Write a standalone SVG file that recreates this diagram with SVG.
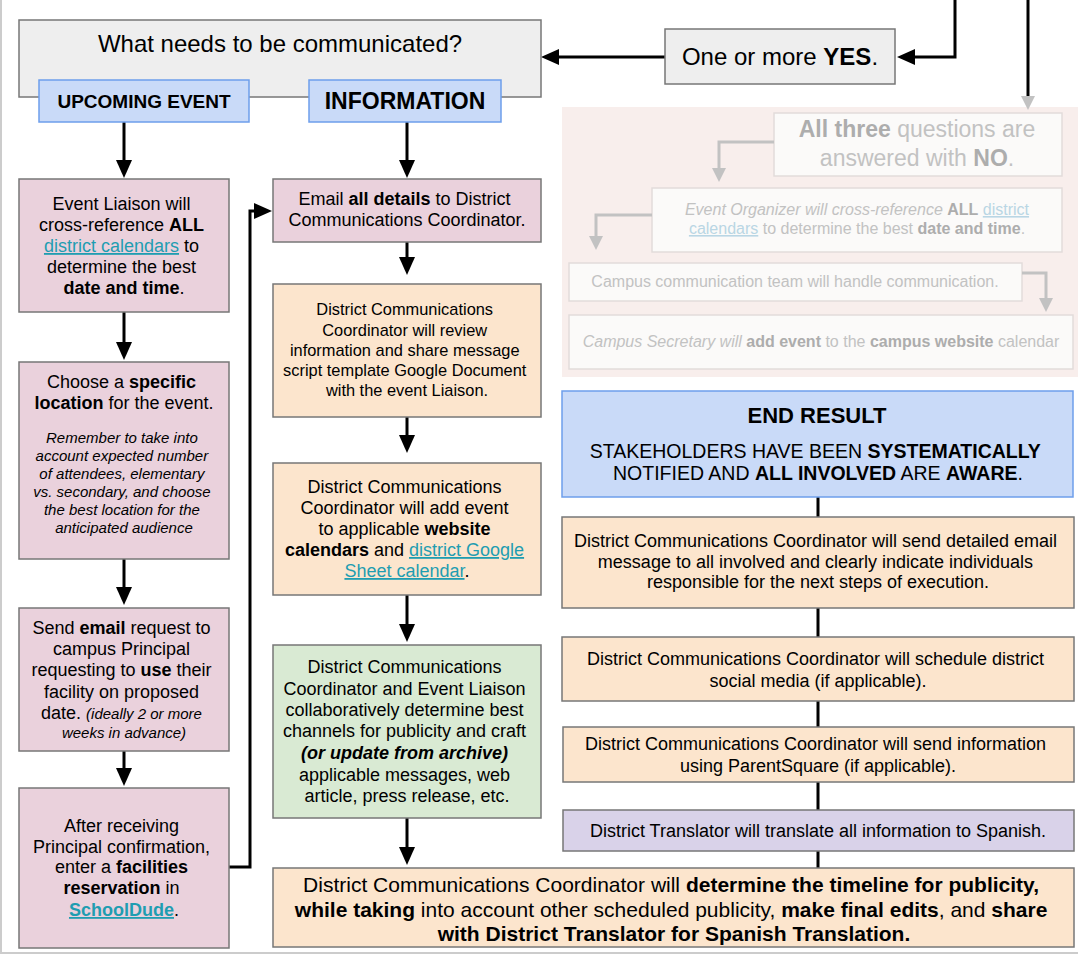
<svg xmlns="http://www.w3.org/2000/svg" width="1078" height="955" viewBox="0 0 1078 955">
<style>
text{font-family:"Liberation Sans",Arial,sans-serif;fill:#000;text-anchor:middle}
.b{font-weight:bold}
.i{font-style:italic}
.lk{fill:#1f9db1;text-decoration:underline}
.box{stroke:#777;stroke-width:1.5}
.grey{fill:#eeeeee}
.pink{fill:#ead1dc}
.orange{fill:#fce5cd}
.green{fill:#d9ead3}
.purple{fill:#d9d2e9}
.blue{fill:#c9daf8;stroke:#6d9eeb;stroke-width:1.5}
.conn{stroke:#000;stroke-width:3;fill:none}
.fconn{stroke:#c2c2c2;stroke-width:3;fill:none}
.fbox{fill:#fbfaf9;stroke:#e2dcda;stroke-width:1.5}
.ft{fill:#c2c2c2}
.ftb{fill:#adadad;font-weight:bold}
.flk{fill:#b9d6e4;text-decoration:underline}
</style>
<defs>
<marker id="ah" viewBox="0 0 18 16" refX="0" refY="8" markerWidth="18" markerHeight="16" markerUnits="userSpaceOnUse" orient="auto">
<path d="M0,0 L18,8 L0,16 z" fill="#000"/>
</marker>
<marker id="gah" viewBox="0 0 14 14" refX="0" refY="7" markerWidth="14" markerHeight="14" markerUnits="userSpaceOnUse" orient="auto">
<path d="M0,0 L14,7 L0,14 z" fill="#c2c2c2"/>
</marker>
</defs>
<rect width="1078" height="955" fill="#fff"/>
<path d="M1,0 V953 H1078" stroke="#cccccc" stroke-width="2" fill="none"/>

<!-- faded region -->
<g id="faded">
<rect x="562" y="107" width="516" height="270" fill="#f8eeec"/>
<g id="f-all-no">
<rect class="fbox" x="774" y="113" width="288" height="63"/>
<text x="917" y="137" font-size="23"><tspan class="ftb">All three</tspan><tspan class="ft"> questions are</tspan></text>
<text x="917" y="166" font-size="23"><tspan class="ft">answered with </tspan><tspan class="ftb">NO</tspan><tspan class="ft">.</tspan></text>
</g>
<g id="f-organizer">
<rect class="fbox" x="652" y="188" width="410" height="64"/>
<text x="857" y="215" font-size="16"><tspan class="ft i">Event Organizer will cross-reference </tspan><tspan class="ftb">ALL</tspan><tspan class="ft"> </tspan><tspan class="flk">district</tspan></text>
<text x="857" y="234" font-size="16"><tspan class="flk">calendars</tspan><tspan class="ft"> to determine the best </tspan><tspan class="ftb">date and time</tspan><tspan class="ft">.</tspan></text>
</g>
<g id="f-campus-team">
<rect class="fbox" x="569" y="263" width="453" height="38"/>
<text x="795" y="287" font-size="16" class="ft">Campus communication team will handle communication.</text>
</g>
<g id="f-secretary">
<rect class="fbox" x="569" y="315" width="504" height="54"/>
<text x="821" y="347" font-size="16"><tspan class="ft i">Campus Secretary will </tspan><tspan class="ftb">add event</tspan><tspan class="ft"> to the </tspan><tspan class="ftb">campus website</tspan><tspan class="ft"> calendar</tspan></text>
</g>
<g id="f-connectors">
<path class="fconn" d="M774,142 H719 V168" marker-end="url(#gah)"/>
<path class="fconn" d="M652,215 H596 V236" marker-end="url(#gah)"/>
<path class="fconn" d="M1022,273 H1046 V298" marker-end="url(#gah)"/>
</g>
</g>

<!-- connectors -->
<g id="connectors">
<path class="conn" d="M665,57 H559" marker-end="url(#ah)"/>
<path class="conn" d="M955,0 V57 H915" marker-end="url(#ah)"/>
<path class="conn" d="M1028,0 V96"/>
<path d="M1021,96 L1035,96 L1028,110 z" fill="#c2c2c2"/>
<path class="conn" d="M124,122 V160" marker-end="url(#ah)"/>
<path class="conn" d="M124,312 V342" marker-end="url(#ah)"/>
<path class="conn" d="M124,559 V587" marker-end="url(#ah)"/>
<path class="conn" d="M124,751 V768" marker-end="url(#ah)"/>
<path class="conn" d="M229,867 H250 V211 H254" marker-end="url(#ah)"/>
<path class="conn" d="M407,122 V160" marker-end="url(#ah)"/>
<path class="conn" d="M407,242 V257" marker-end="url(#ah)"/>
<path class="conn" d="M407,417 V435" marker-end="url(#ah)"/>
<path class="conn" d="M407,595 V624" marker-end="url(#ah)"/>
<path class="conn" d="M407,818 V847" marker-end="url(#ah)"/>
<path class="conn" d="M818,497 V517 M818,608 V637 M818,701 V727 M818,782 V810 M818,851 V868"/>
</g>

<g id="what">
<rect class="box grey" x="19" y="20" width="522" height="77"/>
<text x="280" y="52" font-size="24">What needs to be communicated?</text>
</g>
<g id="upcoming">
<rect class="blue" x="39" y="80" width="210" height="42"/>
<text x="144" y="108" font-size="19" class="b">UPCOMING EVENT</text>
</g>
<g id="information">
<rect class="blue" x="309" y="80" width="192" height="42"/>
<text x="405" y="109" font-size="23" class="b">INFORMATION</text>
</g>
<g id="yes">
<rect class="box grey" x="665" y="29" width="230" height="55"/>
<text x="780" y="65" font-size="24">One or more <tspan class="b">YES</tspan>.</text>
</g>

<g id="liaison">
<rect class="box pink" x="19" y="179" width="210" height="133"/>
<text font-size="18">
<tspan x="124" y="210">Event Liaison will</tspan>
<tspan x="124" y="231">cross-reference <tspan class="b">ALL</tspan></tspan>
<tspan x="124" y="252"><tspan class="lk">district calendars</tspan> to</tspan>
<tspan x="124" y="273">determine the best</tspan>
<tspan x="124" y="294"><tspan class="b">date and time</tspan>.</tspan>
</text>
</g>
<g id="location">
<rect class="box pink" x="19" y="362" width="210" height="197"/>
<text font-size="18">
<tspan x="124" y="388">Choose a <tspan class="b">specific</tspan></tspan>
<tspan x="124" y="409"><tspan class="b">location</tspan> for the event.</tspan>
</text>
<text font-size="15" class="i">
<tspan x="124" y="443">Remember to take into</tspan>
<tspan x="124" y="461">account expected number</tspan>
<tspan x="124" y="479">of attendees, elementary</tspan>
<tspan x="124" y="497">vs. secondary, and choose</tspan>
<tspan x="124" y="515">the best location for the</tspan>
<tspan x="124" y="533">anticipated audience</tspan>
</text>
</g>
<g id="email-request">
<rect class="box pink" x="19" y="608" width="210" height="143"/>
<text font-size="18">
<tspan x="124" y="634">Send <tspan class="b">email</tspan> request to</tspan>
<tspan x="124" y="655">campus Principal</tspan>
<tspan x="124" y="676">requesting to <tspan class="b">use</tspan> their</tspan>
<tspan x="124" y="698">facility on proposed</tspan>
<tspan x="124" y="719">date. <tspan class="i" font-size="15">(ideally 2 or more</tspan></tspan>
<tspan x="124" y="738" class="i" font-size="15">weeks in advance)</tspan>
</text>
</g>
<g id="reservation">
<rect class="box pink" x="19" y="788" width="210" height="160"/>
<text font-size="18">
<tspan x="124" y="832">After receiving</tspan>
<tspan x="124" y="853">Principal confirmation,</tspan>
<tspan x="124" y="873">enter a <tspan class="b">facilities</tspan></tspan>
<tspan x="124" y="894"><tspan class="b">reservation</tspan> in</tspan>
<tspan x="124" y="916"><tspan class="b lk">SchoolDude</tspan>.</tspan>
</text>
</g>

<g id="email-details">
<rect class="box pink" x="273" y="179" width="268" height="63"/>
<text font-size="18">
<tspan x="407" y="205">Email <tspan class="b">all details</tspan> to District</tspan>
<tspan x="407" y="226">Communications Coordinator.</tspan>
</text>
</g>
<g id="review">
<rect class="box orange" x="273" y="284" width="268" height="133"/>
<text font-size="16.4">
<tspan x="407" y="315">District Communications</tspan>
<tspan x="407" y="336">Coordinator will review</tspan>
<tspan x="407" y="356">information and share message</tspan>
<tspan x="407" y="376">script template Google Document</tspan>
<tspan x="407" y="396">with the event Liaison.</tspan>
</text>
</g>
<g id="add-event">
<rect class="box orange" x="273" y="463" width="268" height="132"/>
<text font-size="18">
<tspan x="407" y="493">District Communications</tspan>
<tspan x="407" y="514">Coordinator will add event</tspan>
<tspan x="407" y="535">to applicable <tspan class="b">website</tspan></tspan>
<tspan x="407" y="556"><tspan class="b">calendars</tspan> and <tspan class="lk">district Google</tspan></tspan>
<tspan x="407" y="577"><tspan class="lk">Sheet calendar</tspan>.</tspan>
</text>
</g>
<g id="channels">
<rect class="box green" x="273" y="645" width="268" height="173"/>
<text font-size="18">
<tspan x="407" y="673">District Communications</tspan>
<tspan x="407" y="695">Coordinator and Event Liaison</tspan>
<tspan x="407" y="716">collaboratively determine best</tspan>
<tspan x="407" y="737">channels for publicity and craft</tspan>
<tspan x="407" y="759" class="b i">(or update from archive)</tspan>
<tspan x="407" y="781">applicable messages, web</tspan>
<tspan x="407" y="802">article, press release, etc.</tspan>
</text>
</g>
<g id="timeline">
<rect class="box orange" x="273" y="868" width="801" height="79"/>
<text font-size="21">
<tspan x="674" y="892">District Communications Coordinator will <tspan class="b">determine the timeline for publicity,</tspan></tspan>
<tspan x="674" y="917"><tspan class="b">while taking</tspan> into account other scheduled publicity, <tspan class="b">make final edits</tspan>, and <tspan class="b">share</tspan></tspan>
<tspan x="674" y="941" class="b">with District Translator for Spanish Translation.</tspan>
</text>
</g>

<g id="end-result">
<rect class="blue" x="562" y="391" width="511" height="106"/>
<text x="817" y="423" font-size="22" class="b">END RESULT</text>
<text font-size="19.5">
<tspan x="818" y="458">STAKEHOLDERS HAVE BEEN <tspan class="b">SYSTEMATICALLY</tspan></tspan>
<tspan x="818" y="480">NOTIFIED AND <tspan class="b">ALL INVOLVED</tspan> ARE <tspan class="b">AWARE</tspan>.</tspan>
</text>
</g>
<g id="detailed-email">
<rect class="box orange" x="562" y="517" width="512" height="91"/>
<text font-size="18">
<tspan x="818" y="547">District Communications Coordinator will send detailed email</tspan>
<tspan x="818" y="568">message to all involved and clearly indicate individuals</tspan>
<tspan x="818" y="588">responsible for the next steps of execution.</tspan>
</text>
</g>
<g id="social-media">
<rect class="box orange" x="562" y="637" width="512" height="64"/>
<text font-size="18">
<tspan x="818" y="665">District Communications Coordinator will schedule district</tspan>
<tspan x="818" y="687">social media (if applicable).</tspan>
</text>
</g>
<g id="parentsquare">
<rect class="box orange" x="563" y="727" width="511" height="55"/>
<text font-size="18">
<tspan x="818" y="750">District Communications Coordinator will send information</tspan>
<tspan x="818" y="772">using ParentSquare (if applicable).</tspan>
</text>
</g>
<g id="translator">
<rect class="box purple" x="563" y="810" width="511" height="41"/>
<text x="818" y="837" font-size="18">District Translator will translate all information to Spanish.</text>
</g>
</svg>
